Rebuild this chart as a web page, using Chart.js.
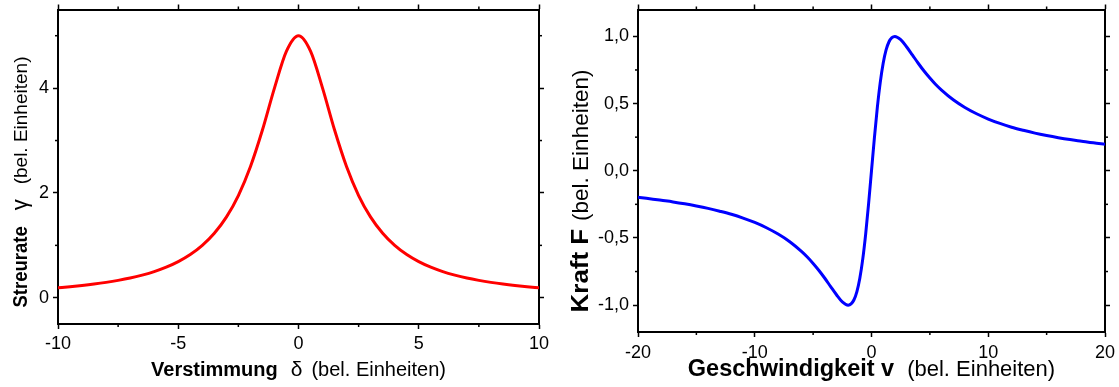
<!DOCTYPE html>
<html><head><meta charset="utf-8">
<script src="https://cdn.jsdelivr.net/npm/chart.js@4.4.1/dist/chart.umd.min.js"></script>
<style>
html,body{margin:0;padding:0;background:#fff;overflow:hidden;width:1119px;height:387px}
#a{position:absolute;left:0;top:0}
#b{position:absolute;left:560px;top:0}
</style></head><body>
<canvas id="a" width="560" height="387"></canvas>
<canvas id="b" width="559" height="387"></canvas>
<script>
// ---- data ----
const detuning = [-10,-9.5,-9,-8.5,-8,-7.5,-7,-6.5,-6,-5.5,-5,-4.5,-4,-3.5,-3,-2.5,-2,-1.5,-1,-0.5,0,
                  0.5,1,1.5,2,2.5,3,3.5,4,4.5,5,5.5,6,6.5,7,7.5,8,8.5,9,9.5,10];
const scatterRate = [0.192,0.212,0.235,0.262,0.294,0.332,0.377,0.433,0.500,0.584,0.690,0.825,1.000,1.231,1.538,1.951,2.500,3.200,4.000,4.706,5.000,
                     4.706,4.000,3.200,2.500,1.951,1.538,1.231,1.000,0.825,0.690,0.584,0.500,0.433,0.377,0.332,0.294,0.262,0.235,0.212,0.192];
const velocity = [-20,-19,-18,-17,-16,-15,-14,-13,-12,-11,-10,-9,-8,-7,-6,-5.5,-5,-4.5,-4,-3.5,-3,-2.5,-2,-1.75,-1.5,-1.25,-1,-0.75,-0.5,-0.25,0,
                  0.25,0.5,0.75,1,1.25,1.5,1.75,2,2.5,3,3.5,4,4.5,5,5.5,6,7,8,9,10,11,12,13,14,15,16,17,18,19,20];
const force = [-0.198,-0.208,-0.220,-0.232,-0.246,-0.262,-0.280,-0.301,-0.324,-0.352,-0.385,-0.424,-0.471,-0.528,-0.600,-0.642,-0.690,-0.742,-0.800,-0.862,-0.923,-0.976,-1.000,-0.991,-0.960,-0.899,-0.800,-0.658,-0.471,-0.246,0,
               0.246,0.471,0.658,0.800,0.899,0.960,0.991,1.000,0.976,0.923,0.862,0.800,0.742,0.690,0.642,0.600,0.528,0.471,0.424,0.385,0.352,0.324,0.301,0.280,0.262,0.246,0.232,0.220,0.208,0.198];

const detuningTicks = [-10,-5,0,5,10];
const detuningLabels = ['-10','-5','0','5','10'];
const detuningMinor = [-7.5,-2.5,2.5,7.5];
const rateTicks = [0,2,4];
const rateLabels = ['0','2','4'];
const rateMinor = [1,3,5];
const velocityTicks = [-20,-10,0,10,20];
const velocityLabels = ['-20','-10','0','10','20'];
const velocityMinor = [-15,-5,5,15];
const forceTicks = [-1,-0.5,0,0.5,1];
const forceLabels = ['-1,0','-0,5','0,0','0,5','1,0'];
const forceMinor = [-0.75,-0.25,0.25,0.75];

const FONT = '"Liberation Sans", Arial, sans-serif';

function axis(pos, min, max, ticks, labels, size, showLabels, fontSize, pad) {
  return {
    type: 'linear', position: pos, min: min, max: max,
    afterBuildTicks: s => { s.ticks = ticks.map(v => ({ value: v })); },
    afterFit: s => {
      if (pos === 'left' || pos === 'right') s.width = size; else s.height = size;
      s.paddingTop = 0; s.paddingBottom = 0; s.paddingLeft = 0; s.paddingRight = 0;
    },
    ticks: {
      display: showLabels, color: '#000', padding: pad, maxRotation: 0, autoSkip: false,
      font: { family: FONT, size: fontSize },
      callback: v => { const i = ticks.indexOf(v); return i >= 0 ? labels[i] : ''; }
    },
    grid: { display: true, drawOnChartArea: false, drawTicks: true, tickLength: 5, tickWidth: 1.5, tickColor: '#000' },
    border: { display: true, color: '#000', width: 2 }
  };
}

const minorPlugin = {
  id: 'minorTicks',
  afterDraw(chart, args, opts) {
    const ctx = chart.ctx, a = chart.chartArea, L = 3;
    ctx.save(); ctx.strokeStyle = '#000'; ctx.lineWidth = 1.5;
    const ln = (x1, y1, x2, y2) => { ctx.beginPath(); ctx.moveTo(x1, y1); ctx.lineTo(x2, y2); ctx.stroke(); };
    opts.x.forEach(v => { const p = chart.scales.x.getPixelForValue(v); ln(p, a.bottom, p, a.bottom + L); ln(p, a.top, p, a.top - L); });
    opts.y.forEach(v => { const p = chart.scales.y.getPixelForValue(v); ln(a.left, p, a.left - L, p); ln(a.right, p, a.right + L, p); });
    ctx.restore();
  }
};

const titlePlugin = {
  id: 'mixedTitles',
  afterDraw(chart, args, opts) {
    const ctx = chart.ctx, a = chart.chartArea;
    const drawRow = (parts, cx, baseY) => {
      const widths = parts.map(p => { ctx.font = p.f; return ctx.measureText(p.t).width * (p.sx || 1); });
      const total = widths.reduce((s, w) => s + w, 0) + parts.reduce((s, p) => s + (p.gap || 0), 0);
      let x = cx - total / 2;
      parts.forEach((p, i) => {
        ctx.save(); ctx.font = p.f; ctx.translate(x, baseY); ctx.scale(p.sx || 1, 1);
        ctx.fillText(p.t, 0, 0); ctx.restore();
        x += widths[i] + (p.gap || 0);
      });
    };
    ctx.save(); ctx.fillStyle = '#000'; ctx.textBaseline = 'alphabetic'; ctx.textAlign = 'left';
    drawRow(opts.x.parts, (a.left + a.right) / 2, opts.x.baseline);
    ctx.translate(opts.y.baseline, opts.y.center);
    ctx.rotate(-Math.PI / 2);
    drawRow(opts.y.parts, 0, 0);
    ctx.restore();
  }
};

function makeChart(id, xs, ys, color, xa, ya, xa2, ya2, minor, titles) {
  return new Chart(document.getElementById(id), {
    type: 'line',
    data: { datasets: [{ data: xs.map((x, i) => ({ x: x, y: ys[i] })), borderColor: color, borderWidth: 3,
      pointRadius: 0, fill: false, cubicInterpolationMode: 'monotone' }] },
    options: {
      responsive: false, animation: false, events: [],
      layout: { padding: 0 },
      plugins: { legend: { display: false }, tooltip: { enabled: false }, minorTicks: minor, mixedTitles: titles },
      scales: { x: xa, y: ya, x2: xa2, y2: ya2 }
    },
    plugins: [minorPlugin, titlePlugin]
  });
}

// left chart
makeChart('a', detuning, scatterRate, '#ff0000',
  axis('bottom', -10, 10, detuningTicks, detuningLabels, 63, true, 18, 4),
  axis('left', -0.5, 5.5, rateTicks, rateLabels, 58, true, 18, 4),
  axis('top', -10, 10, detuningTicks, detuningLabels, 9.5, false, 18, 0),
  axis('right', -0.5, 5.5, rateTicks, rateLabels, 21, false, 18, 0),
  { x: detuningMinor, y: rateMinor },
  { x: { baseline: 376, parts: [
        { t: 'Verstimmung', f: 'bold 20px ' + FONT, gap: 13 },
        { t: 'δ', f: '21px ' + FONT, gap: 9 },
        { t: '(bel. Einheiten)', f: '20px ' + FONT } ] },
    y: { baseline: 27, center: 182, parts: [
        { t: 'Streurate', f: 'bold 21px ' + FONT, sx: 0.88, gap: 16 },
        { t: 'γ', f: '22px ' + FONT, gap: 15 },
        { t: '(bel. Einheiten)', f: '19px ' + FONT } ] } });

// right chart
makeChart('b', velocity, force, '#0000ff',
  axis('bottom', -20, 20, velocityTicks, velocityLabels, 55, true, 18, 5),
  axis('left', -1.2, 1.2, forceTicks, forceLabels, 78, true, 18, 4),
  axis('top', -20, 20, velocityTicks, velocityLabels, 9.5, false, 18, 0),
  axis('right', -1.2, 1.2, forceTicks, forceLabels, 14, false, 18, 0),
  { x: velocityMinor, y: forceMinor },
  { x: { baseline: 376, parts: [
        { t: 'Geschwindigkeit v', f: 'bold 23.5px ' + FONT, gap: 13 },
        { t: '(bel. Einheiten)', f: '22px ' + FONT } ] },
    y: { baseline: 28, center: 191, parts: [
        { t: 'Kraft F', f: 'bold 24px ' + FONT, sx: 1.08, gap: 8 },
        { t: '(bel. Einheiten)', f: '22.5px ' + FONT } ] } });
</script>
</body></html>
